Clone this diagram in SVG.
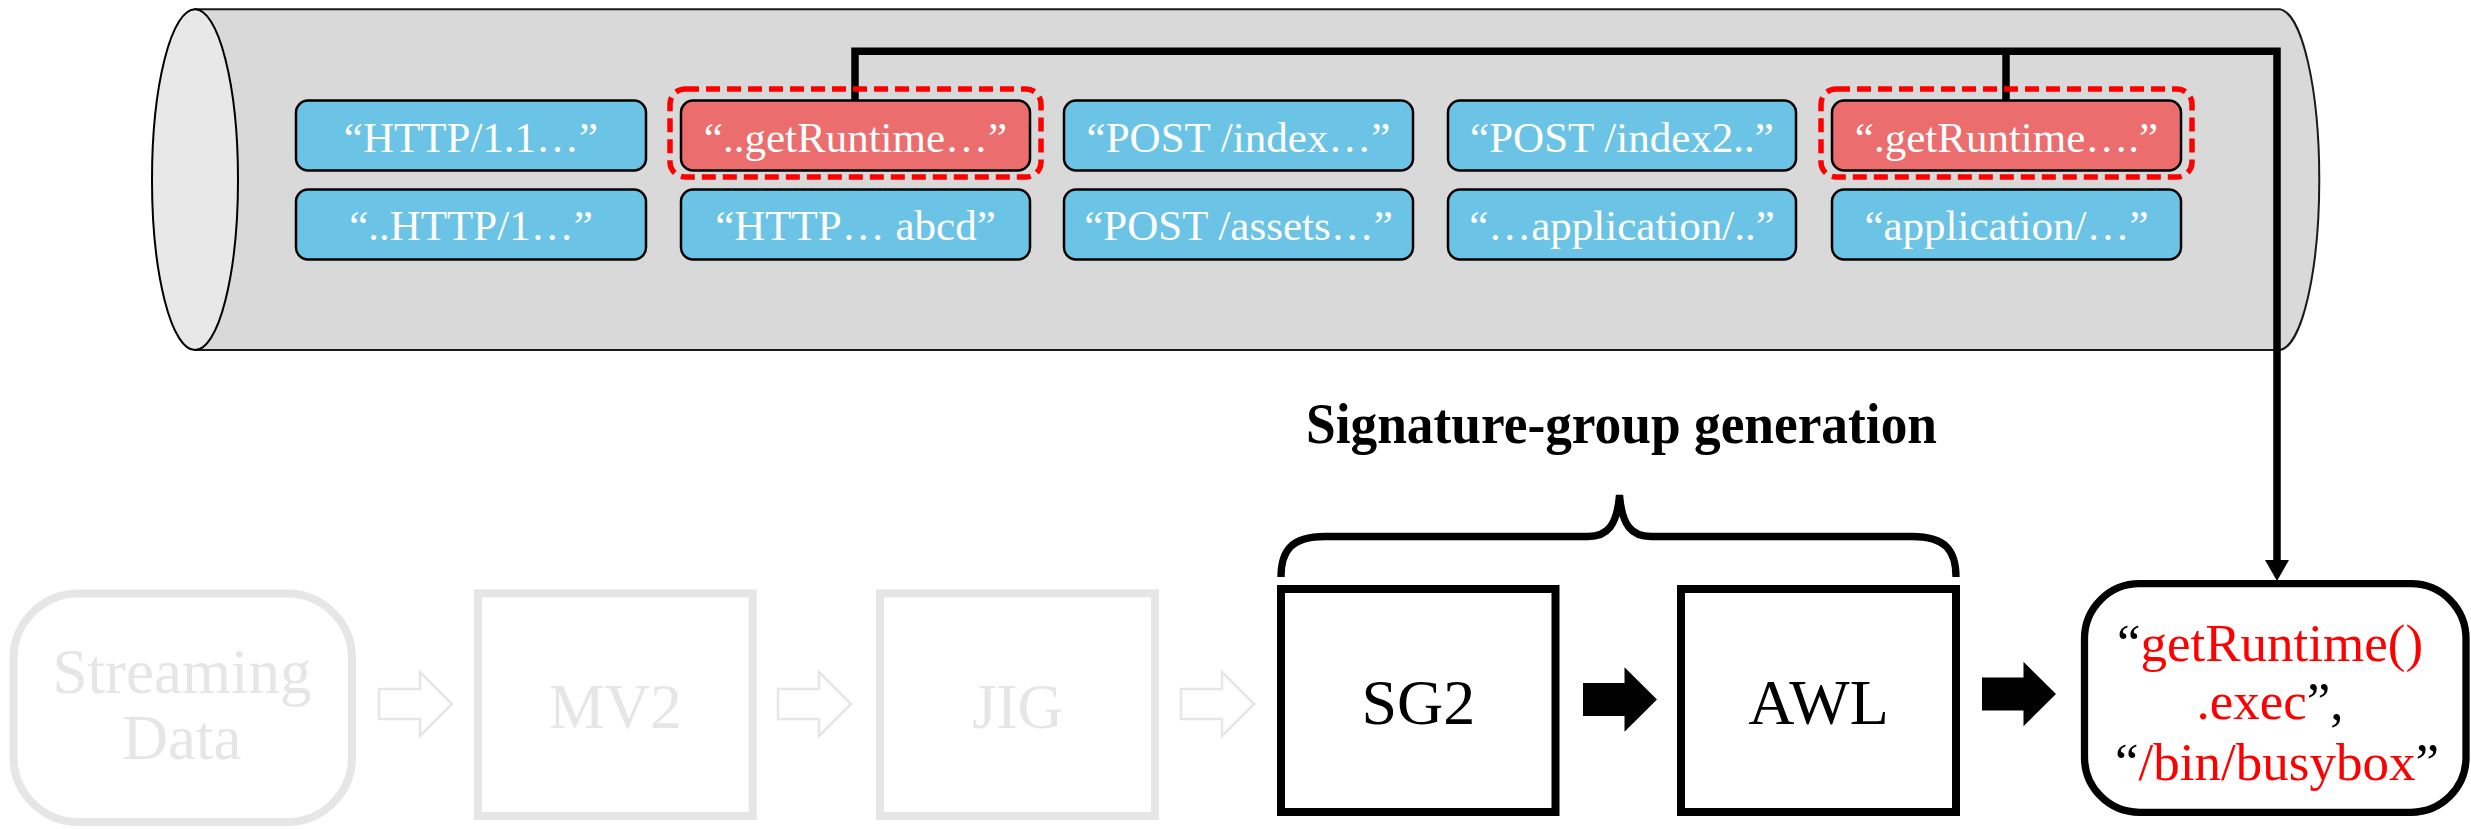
<svg xmlns="http://www.w3.org/2000/svg" width="2471" height="829" viewBox="0 0 2471 829">
  <style>
    .serif { font-family: "Liberation Serif", "Times New Roman", serif; }
    .pkt { stroke: #000; stroke-width: 2.5; }
    .pkt-blue { fill: #6bc4e5; }
    .pkt-red { fill: #eb6d6e; }
    .pkt-text { font-family: "Liberation Serif", "Times New Roman", serif; font-size: 43px; fill: #fff; text-anchor: middle; }
    .hit { fill: none; stroke: #ff0000; stroke-width: 5.5; stroke-dasharray: 14 7; }
    .faded { fill: #fff; stroke: #e6e6e6; stroke-width: 8; }
    .faded-text { font-family: "Liberation Serif", "Times New Roman", serif; font-size: 63px; fill: #e6e6e6; text-anchor: middle; }
    .stage { fill: #fff; stroke: #000; stroke-width: 8; }
    .stage-text { font-family: "Liberation Serif", "Times New Roman", serif; font-size: 64px; fill: #000; text-anchor: middle; }
    .wire { fill: none; stroke: #000; stroke-width: 7.5; stroke-linejoin: miter; }
    .red { fill: #ff0000; }
  </style>
  <defs>
    <path id="hollow-arrow" d="M0,-15 H41 V-32 L73,0 L41,32 V15 H0 Z" fill="#fff" stroke="#e6e6e6" stroke-width="2.5"/>
    <path id="solid-arrow" d="M0,-16.5 H41.5 V-32.2 L74,0 L41.5,32.2 V16.5 H0 Z" fill="#000"/>
  </defs>

  <!-- data stream cylinder -->
  <g id="stream">
    <path d="M195,9.3 H2280 A41,170.5 0 0 1 2280,350 H195 Z" fill="#d9d9d9" stroke="#1a1a1a" stroke-width="2"/>
    <ellipse cx="195" cy="179.7" rx="43" ry="170.4" fill="#e8e8e8" stroke="#000" stroke-width="2"/>
  </g>

  <!-- connectors -->
  <g id="connectors">
    <path class="wire" d="M855,100 V51.3 H2277 V562"/>
    <path class="wire" d="M2006,51.3 V100"/>
    <path d="M2265,560 H2289 L2277,581 Z" fill="#000"/>
  </g>

  <!-- packets, row 1 -->
  <g id="pkt-1-1">
    <rect class="pkt pkt-blue" x="296" y="100.5" width="350" height="70" rx="12"/>
    <text class="pkt-text" x="471" y="152">“HTTP/1.1…”</text>
  </g>
  <g id="pkt-1-2">
    <rect class="pkt pkt-red" x="681" y="100.5" width="349" height="70" rx="12"/>
    <text class="pkt-text" x="855.5" y="152">“..getRuntime…”</text>
    <rect class="hit" x="670" y="89" width="371" height="88" rx="15"/>
  </g>
  <g id="pkt-1-3">
    <rect class="pkt pkt-blue" x="1064" y="100.5" width="349" height="70" rx="12"/>
    <text class="pkt-text" x="1238.5" y="152">“POST /index…”</text>
  </g>
  <g id="pkt-1-4">
    <rect class="pkt pkt-blue" x="1448" y="100.5" width="348" height="70" rx="12"/>
    <text class="pkt-text" x="1622" y="152">“POST /index2..”</text>
  </g>
  <g id="pkt-1-5">
    <rect class="pkt pkt-red" x="1832" y="100.5" width="349" height="70" rx="12"/>
    <text class="pkt-text" x="2006.5" y="152">“.getRuntime….”</text>
    <rect class="hit" x="1821" y="89" width="371" height="88" rx="15"/>
  </g>

  <!-- packets, row 2 -->
  <g id="pkt-2-1">
    <rect class="pkt pkt-blue" x="296" y="189.5" width="350" height="70" rx="12"/>
    <text class="pkt-text" x="471" y="240">“..HTTP/1…”</text>
  </g>
  <g id="pkt-2-2">
    <rect class="pkt pkt-blue" x="681" y="189.5" width="349" height="70" rx="12"/>
    <text class="pkt-text" x="855.5" y="240">“HTTP… abcd”</text>
  </g>
  <g id="pkt-2-3">
    <rect class="pkt pkt-blue" x="1064" y="189.5" width="349" height="70" rx="12"/>
    <text class="pkt-text" x="1238.5" y="240">“POST /assets…”</text>
  </g>
  <g id="pkt-2-4">
    <rect class="pkt pkt-blue" x="1448" y="189.5" width="348" height="70" rx="12"/>
    <text class="pkt-text" x="1622" y="240">“…application/..”</text>
  </g>
  <g id="pkt-2-5">
    <rect class="pkt pkt-blue" x="1832" y="189.5" width="349" height="70" rx="12"/>
    <text class="pkt-text" x="2006.5" y="240">“application/…”</text>
  </g>

  <!-- pipeline: faded earlier stages -->
  <g id="streaming-data">
    <rect class="faded" x="13.5" y="593.5" width="338.5" height="228.5" rx="65"/>
    <text class="faded-text" x="182" y="693" font-size="52">Streaming</text>
    <text class="faded-text" x="182" y="759" font-size="52">Data</text>
  </g>
  <use href="#hollow-arrow" transform="translate(379,704)"/>
  <g id="mv2">
    <rect class="faded" x="478" y="593.3" width="274.7" height="222.7"/>
    <text class="faded-text" x="615.3" y="727.7">MV2</text>
  </g>
  <use href="#hollow-arrow" transform="translate(778,704)"/>
  <g id="jig">
    <rect class="faded" x="880" y="593.3" width="275" height="222.7"/>
    <text class="faded-text" x="1017.5" y="727.7">JIG</text>
  </g>
  <use href="#hollow-arrow" transform="translate(1181,704)"/>

  <!-- signature-group generation -->
  <g id="sig-group-label">
    <text class="serif" x="1621.5" y="443" font-size="57" font-weight="bold" text-anchor="middle" textLength="631" lengthAdjust="spacingAndGlyphs">Signature-group generation</text>
    <path d="M1281,577 C1281,551 1291,536.5 1325,536.5 H1588 C1607,536.5 1617,526 1619.5,495 C1622,526 1632,536.5 1651,536.5 H1912 C1946,536.5 1956,551 1956,577" fill="none" stroke="#000" stroke-width="7.3"/>
  </g>
  <g id="sg2">
    <rect class="stage" x="1281" y="589" width="274.5" height="223"/>
    <text class="stage-text" x="1418.3" y="724">SG2</text>
  </g>
  <use href="#solid-arrow" transform="translate(1583,699.5)"/>
  <g id="awl">
    <rect class="stage" x="1681" y="589" width="275" height="223"/>
    <text class="stage-text" x="1818.5" y="723.5">AWL</text>
  </g>
  <use href="#solid-arrow" transform="translate(1982,694)"/>

  <!-- extracted signatures -->
  <g id="signatures">
    <rect x="2084.5" y="583.7" width="381.5" height="228.6" rx="55" fill="#fff" stroke="#000" stroke-width="7.3"/>
    <text class="serif" x="2270" y="661" font-size="53" text-anchor="middle">“<tspan class="red">getRuntime()</tspan></text>
    <text class="serif" x="2270" y="719" font-size="53" text-anchor="middle"><tspan class="red">.exec</tspan>”,</text>
    <text class="serif" x="2277" y="780" font-size="53" text-anchor="middle">“<tspan class="red">/bin/busybox</tspan>”</text>
  </g>
</svg>
